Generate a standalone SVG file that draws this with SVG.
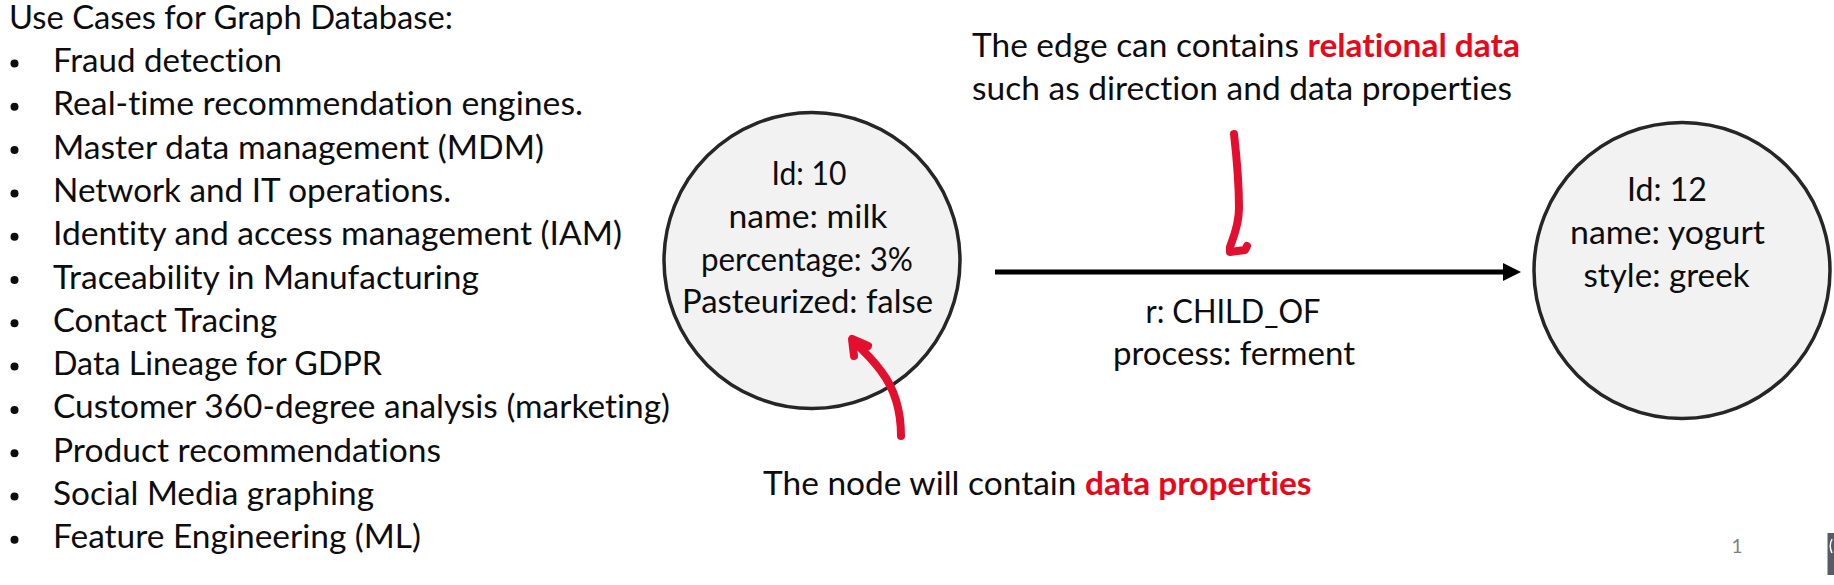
<svg xmlns="http://www.w3.org/2000/svg" width="1834" height="585" viewBox="0 0 1834 585">
  <style>
    .t { font-family: Lato, "Liberation Sans", sans-serif; font-size: 32px; fill: #0d0d0d; font-variant-ligatures: none; font-feature-settings: "liga" 0, "clig" 0; }
    .red { fill: #e8081c; font-weight: bold; }
    .c { text-anchor: middle; }
    .node circle { fill: #f2f2f2; stroke: #262626; stroke-width: 3.5; }
    .ink { fill: none; stroke: #e2102e; stroke-width: 8; stroke-linecap: round; stroke-linejoin: round; }
    .bul { fill: #0d0d0d; }
    .pg { font-family: Lato, "Liberation Sans", sans-serif; font-size: 19px; fill: #7f7f7f; }
  </style>
  <defs>
    <marker id="arr" markerUnits="userSpaceOnUse" markerWidth="18" markerHeight="18" viewBox="0 0 18 18" refX="3" refY="9" orient="auto">
      <path d="M0 0 L18 9 L0 18 Z" fill="#000"/>
    </marker>
  </defs>
  <rect width="1834" height="585" fill="#ffffff"/>

  <g id="use-cases">
    <text class="t" x="9" y="29" textLength="444" lengthAdjust="spacingAndGlyphs">Use Cases for Graph Database:</text>
    <circle class="bul" cx="14.5" cy="63.5" r="4"/>
    <text class="t" x="53" y="72" textLength="229" lengthAdjust="spacingAndGlyphs">Fraud detection</text>
    <circle class="bul" cx="14.5" cy="106.8" r="4"/>
    <text class="t" x="53" y="115.3" textLength="530" lengthAdjust="spacingAndGlyphs">Real-time recommendation engines.</text>
    <circle class="bul" cx="14.5" cy="150.1" r="4"/>
    <text class="t" x="53" y="158.6" textLength="491" lengthAdjust="spacingAndGlyphs">Master data management (MDM)</text>
    <circle class="bul" cx="14.5" cy="193.4" r="4"/>
    <text class="t" x="53" y="201.9" textLength="398" lengthAdjust="spacingAndGlyphs">Network and IT operations.</text>
    <circle class="bul" cx="14.5" cy="236.7" r="4"/>
    <text class="t" x="53" y="245.2" textLength="569" lengthAdjust="spacingAndGlyphs">Identity and access management (IAM)</text>
    <circle class="bul" cx="14.5" cy="280" r="4"/>
    <text class="t" x="53" y="288.5" textLength="426" lengthAdjust="spacingAndGlyphs">Traceability in Manufacturing</text>
    <circle class="bul" cx="14.5" cy="323.3" r="4"/>
    <text class="t" x="53" y="331.8" textLength="224" lengthAdjust="spacingAndGlyphs">Contact Tracing</text>
    <circle class="bul" cx="14.5" cy="366.6" r="4"/>
    <text class="t" x="53" y="375.1" textLength="329" lengthAdjust="spacingAndGlyphs">Data Lineage for GDPR</text>
    <circle class="bul" cx="14.5" cy="409.9" r="4"/>
    <text class="t" x="53" y="418.4" textLength="617" lengthAdjust="spacingAndGlyphs">Customer 360-degree analysis (marketing)</text>
    <circle class="bul" cx="14.5" cy="453.2" r="4"/>
    <text class="t" x="53" y="461.7" textLength="388" lengthAdjust="spacingAndGlyphs">Product recommendations</text>
    <circle class="bul" cx="14.5" cy="496.5" r="4"/>
    <text class="t" x="53" y="505" textLength="321" lengthAdjust="spacingAndGlyphs">Social Media graphing</text>
    <circle class="bul" cx="14.5" cy="539.8" r="4"/>
    <text class="t" x="53" y="548.3" textLength="368" lengthAdjust="spacingAndGlyphs">Feature Engineering (ML)</text>
  </g>

  <g id="node-milk" class="node">
    <circle cx="812" cy="260.5" r="148"/>
    <text class="t c" x="809" y="185" textLength="75" lengthAdjust="spacingAndGlyphs">Id: 10</text>
    <text class="t c" x="808" y="228" textLength="159" lengthAdjust="spacingAndGlyphs">name: milk</text>
    <text class="t c" x="807" y="270.5" textLength="212" lengthAdjust="spacingAndGlyphs">percentage: 3%</text>
    <text class="t c" x="807.5" y="313" textLength="251" lengthAdjust="spacingAndGlyphs">Pasteurized: false</text>
  </g>

  <g id="node-yogurt" class="node">
    <circle cx="1682" cy="270.5" r="148"/>
    <text class="t c" x="1667" y="201" textLength="80" lengthAdjust="spacingAndGlyphs">Id: 12</text>
    <text class="t c" x="1667.5" y="243.5" textLength="195" lengthAdjust="spacingAndGlyphs">name: yogurt</text>
    <text class="t c" x="1666.5" y="286.5" textLength="166" lengthAdjust="spacingAndGlyphs">style: greek</text>
  </g>

  <g id="connectors">
    <line x1="995" y1="272" x2="1506" y2="272" stroke="#000" stroke-width="5" marker-end="url(#arr)"/>
    <text class="t c" x="1233" y="322.5" textLength="175" lengthAdjust="spacingAndGlyphs">r: CHILD_OF</text>
    <text class="t c" x="1234" y="365" textLength="242" lengthAdjust="spacingAndGlyphs">process: ferment</text>
  </g>

  <g id="annotation-edge">
    <text class="t" x="972" y="57" textLength="548" lengthAdjust="spacingAndGlyphs">The edge can contains <tspan class="red">relational data</tspan></text>
    <text class="t" x="972" y="100" textLength="540" lengthAdjust="spacingAndGlyphs">such as direction and data properties</text>
    <path class="ink" d="M1234 134 C1237 160 1239 185 1239 208 C1239 226 1233 238 1230 247 L1230 252 L1245 250 L1247 246"/>
  </g>

  <g id="annotation-node">
    <path class="ink" d="M901 436 C901 408 894 388 881 371 C873 360 864 351 853 341"/>
    <path class="ink" d="M868 346 L852 339 L854 356"/>
    <text class="t" x="763" y="495" textLength="548.5" lengthAdjust="spacingAndGlyphs">The node will contain <tspan class="red">data properties</tspan></text>
  </g>

  <g id="footer">
    <text class="pg c" x="1737" y="553">1</text>
    <rect x="1827.5" y="533" width="6.5" height="42" fill="#5a5a66"/>
    <path d="M1832 539 Q1828.5 546 1832 553" fill="none" stroke="#ffffff" stroke-width="1.5"/>
  </g>
</svg>
